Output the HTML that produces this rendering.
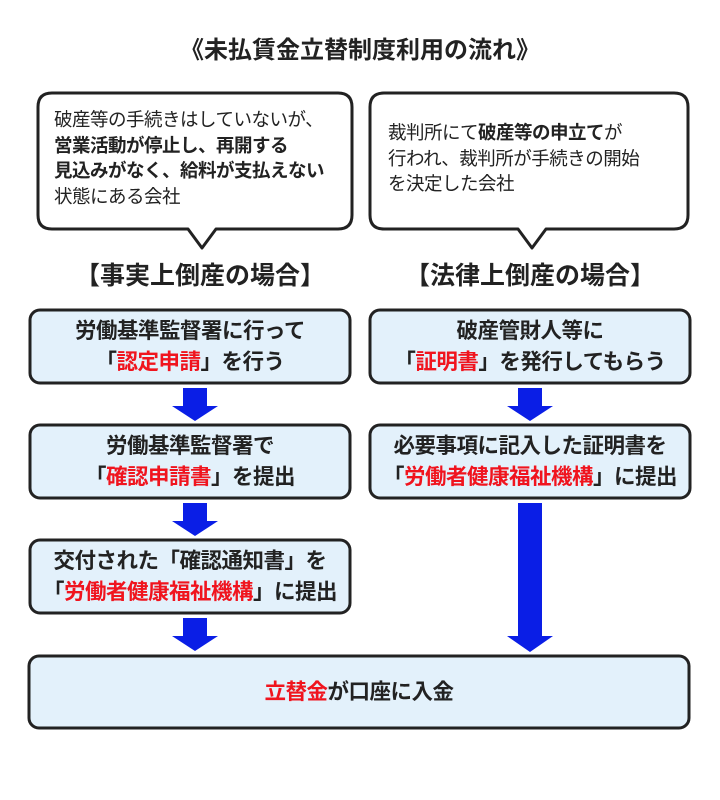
<!DOCTYPE html>
<html><head><meta charset="utf-8"><style>
body{margin:0;width:720px;height:800px;background:#fff;position:relative;overflow:hidden;font-family:"Liberation Sans","Noto Sans CJK JP",sans-serif;color:#222}
.t{position:absolute;text-align:center;white-space:nowrap}
.r{color:#f0141e}
.bx{font-size:21.5px;font-weight:bold;line-height:31px;letter-spacing:-0.5px}
.bub{position:absolute;font-size:18.5px;line-height:25.5px;white-space:nowrap;letter-spacing:-0.5px}
b{font-weight:bold}
</style></head><body>
<svg width="720" height="800" style="position:absolute;left:0;top:0">
<g fill="#fff" stroke="#222" stroke-width="3" stroke-linejoin="round">
<path d="M52,93 H338 Q352,93 352,107 V215 Q352,229 338,229 H216 L202,248 L188,229 H52 Q38,229 38,215 V107 Q38,93 52,93 Z"/>
<path d="M384,93 H674 Q688,93 688,107 V215 Q688,229 674,229 H546 L532,248 L518,229 H384 Q370,229 370,215 V107 Q370,93 384,93 Z"/>
</g>
<g fill="#e3f1fb" stroke="#222" stroke-width="3">
<rect x="30" y="310" width="320" height="73" rx="10"/>
<rect x="30" y="425" width="320" height="73" rx="10"/>
<rect x="30" y="540" width="320" height="73" rx="10"/>
<rect x="370" y="310" width="320" height="73" rx="10"/>
<rect x="370" y="425" width="320" height="73" rx="10"/>
<rect x="29" y="656" width="660" height="72" rx="10"/>
</g>
<g fill="#0a1ee6">
<path d="M183,388 H207 V406 H218 L195,421 L172,406 H183 Z"/>
<path d="M183,503 H207 V521 H218 L195,536 L172,521 H183 Z"/>
<path d="M183,618 H207 V636 H218 L195,651 L172,636 H183 Z"/>
<path d="M518,388 H542 V406 H553 L530,421 L507,406 H518 Z"/>
<path d="M518,503 H542 V636 H553 L530,652 L507,636 H518 Z"/>
</g>
</svg>
<div class="t" style="left:0;width:720px;top:30px;font-size:24px;font-weight:bold">《未払賃金立替制度利用の流れ》</div>
<div class="bub" style="left:54px;top:107px">破産等の手続きはしていないが、<br><b>営業活動が停止し、再開する<br>見込みがなく、給料が支払えない</b><br>状態にある会社</div>
<div class="bub" style="left:388px;top:120px">裁判所にて<b>破産等の申立て</b>が<br>行われ、裁判所が手続きの開始<br>を決定した会社</div>
<div class="t" style="left:30px;width:340px;top:256px;font-size:25px;font-weight:bold">【事実上倒産の場合】</div>
<div class="t" style="left:360px;width:340px;top:256px;font-size:25px;font-weight:bold">【法律上倒産の場合】</div>
<div class="t bx" style="left:30px;width:320px;top:316px">労働基準監督署に行って<br>「<span class="r">認定申請</span>」を行う</div>
<div class="t bx" style="left:30px;width:320px;top:431px">労働基準監督署で<br>「<span class="r">確認申請書</span>」を提出</div>
<div class="t bx" style="left:30px;width:320px;top:546px">交付された「確認通知書」を<br>「<span class="r">労働者健康福祉機構</span>」に提出</div>
<div class="t bx" style="left:370px;width:320px;top:316px">破産管財人等に<br>「<span class="r">証明書</span>」を発行してもらう</div>
<div class="t bx" style="left:370px;width:320px;top:431px">必要事項に記入した証明書を<br>「<span class="r">労働者健康福祉機構</span>」に提出</div>
<div class="t bx" style="left:29px;width:660px;top:677px">
<span class="r">立替金</span>が口座に入金</div>
</body></html>
